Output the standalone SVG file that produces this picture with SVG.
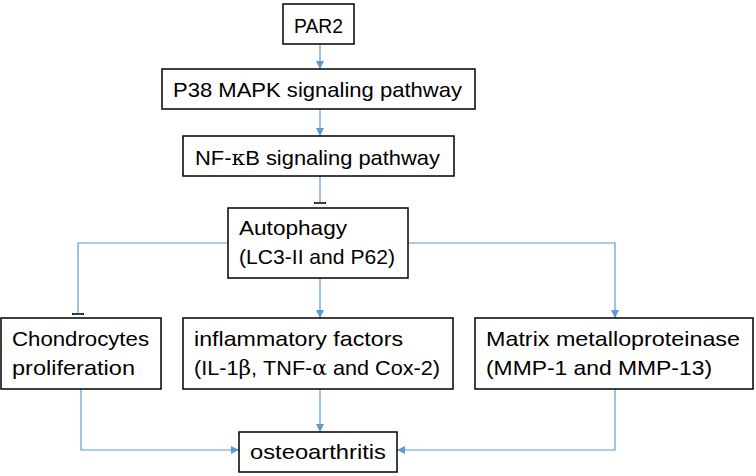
<svg xmlns="http://www.w3.org/2000/svg" width="756" height="476" viewBox="0 0 756 476">
<defs>
<marker id="arr" viewBox="0 0 10 10" refX="10" refY="5" markerWidth="8" markerHeight="8" markerUnits="userSpaceOnUse" orient="auto">
<path d="M0,0 L10,5 L0,10 z" fill="#5b9bd5"/>
</marker>
<marker id="bar" viewBox="0 0 2 12" refX="1" refY="6" markerWidth="2" markerHeight="12" markerUnits="userSpaceOnUse" orient="auto">
<rect x="0" y="0" width="2" height="12" fill="#5b9bd5"/>
</marker>
</defs>
<style>
rect{fill:#fff;stroke:#000;stroke-width:1.5}
text{font-family:"Liberation Sans",Arial,sans-serif;font-size:21px;fill:#000}
.g{font-family:"DejaVu Serif","Liberation Serif",serif}
.c{fill:none;stroke:#5b9bd5;stroke-width:1.2}
.a{marker-end:url(#arr)}
.t{marker-end:url(#bar)}
</style>
<rect x="0" y="0" width="756" height="476" style="stroke:none;fill:#fff"/>
<g id="connectors">
<path class="c a" d="M320,44 V69"/>
<path class="c a" d="M320,109 V136"/>
<path class="c t" d="M320,176 V203"/>
<path class="c t" d="M228,243 H78 V314"/>
<path class="c a" d="M320,278 V318"/>
<path class="c a" d="M408,243 H615 V318"/>
<path class="c a" d="M320,389 V432"/>
<path class="c a" d="M81,389 V450 H239"/>
<path class="c a" d="M615,389 V450 H397"/>
</g>
<g id="par2">
<rect x="283" y="4" width="71" height="40"/>
<text x="294" y="32.5" textLength="49" lengthAdjust="spacingAndGlyphs">PAR2</text>
</g>
<g id="p38">
<rect x="162" y="69" width="313" height="40"/>
<text x="173" y="97" textLength="289" lengthAdjust="spacingAndGlyphs">P38 MAPK signaling pathway</text>
</g>
<g id="nfkb">
<rect x="183" y="136" width="271" height="40"/>
<text x="195" y="164.5" textLength="245" lengthAdjust="spacingAndGlyphs">NF-<tspan class="g">κ</tspan>B signaling pathway</text>
</g>
<g id="autophagy">
<rect x="228" y="208" width="180" height="70"/>
<text x="239" y="235" textLength="108" lengthAdjust="spacingAndGlyphs">Autophagy</text>
<text x="239" y="263.5" textLength="156" lengthAdjust="spacingAndGlyphs">(LC3-II and P62)</text>
</g>
<g id="chondrocytes">
<rect x="1" y="318" width="160" height="71"/>
<text x="12" y="345.5" textLength="137" lengthAdjust="spacingAndGlyphs">Chondrocytes</text>
<text x="12" y="375" textLength="123" lengthAdjust="spacingAndGlyphs">proliferation</text>
</g>
<g id="inflammatory">
<rect x="183" y="318" width="270" height="71"/>
<text x="194" y="345.5" textLength="209" lengthAdjust="spacingAndGlyphs">inflammatory factors</text>
<text x="194" y="375" textLength="246" lengthAdjust="spacingAndGlyphs">(IL-1<tspan class="g">β</tspan>, TNF-<tspan class="g">α</tspan> and Cox-2)</text>
</g>
<g id="matrix">
<rect x="475" y="318" width="278" height="71"/>
<text x="486" y="345.5" textLength="254" lengthAdjust="spacingAndGlyphs">Matrix metalloproteinase</text>
<text x="486" y="375" textLength="226" lengthAdjust="spacingAndGlyphs">(MMP-1 and MMP-13)</text>
</g>
<g id="osteoarthritis">
<rect x="239" y="432" width="158" height="40"/>
<text x="250" y="458.5" textLength="136" lengthAdjust="spacingAndGlyphs">osteoarthritis</text>
</g>
</svg>
